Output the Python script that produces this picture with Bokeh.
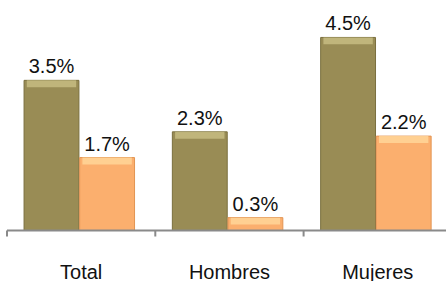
from bokeh.plotting import figure
from bokeh.models import Range1d, ColumnDataSource
from bokeh.core.properties import value
from bokeh.embed import file_html
from bokeh.resources import INLINE
import numpy as np

categories = ["Total", "Hombres", "Mujeres"]
series_a = [3.5, 2.3, 4.5]
series_b = [1.7, 0.3, 2.2]
labels_a = ["3.5%", "2.3%", "4.5%"]
labels_b = ["1.7%", "0.3%", "2.2%"]

W, H = 446, 281
px_per_unit_x = 148.3
x0_px = 6.5
px_per_unit_y = 42.9
base_px = 230.0  # baseline y measured from top of frame

x_start = -x0_px / px_per_unit_x
x_end = (W - x0_px) / px_per_unit_x
y_end = base_px / px_per_unit_y
y_start = -(H - base_px) / px_per_unit_y

p = figure(width=W, height=H, output_backend="svg", toolbar_location=None,
           x_range=Range1d(x_start, x_end), y_range=Range1d(y_start, y_end),
           min_border=0, min_border_left=0, min_border_right=0,
           min_border_top=0, min_border_bottom=0)
p.axis.visible = False
p.grid.visible = False
p.outline_line_color = None
p.background_fill_color = "white"
p.border_fill_color = "white"

idx = np.arange(len(categories))
xa = idx + 0.30
xb = idx + 0.675
bw = 0.37
va = np.array(series_a)
vb = np.array(series_b)

src = ColumnDataSource(dict(xa=xa, xb=xb, va=va, vb=vb,
                            va_h=np.maximum(va - 0.16, 0), vb_h=np.maximum(vb - 0.16, 0),
                            la=labels_a, lb=labels_b,
                            xc=idx + 0.5, cat=categories))

# bars
p.vbar(x="xa", top="va", bottom=0, width=bw, source=src,
       fill_color="#998C55", line_color="#7A6F3E", line_width=1)
p.vbar(x="xb", top="vb", bottom=0, width=bw, source=src,
       fill_color="#FBAF6E", line_color="#E39452", line_width=1)
# bevel highlight on top
p.vbar(x="xa", top="va", bottom="va_h", width=bw * 0.9, source=src,
       fill_color="#C9BF85", fill_alpha=0.8, line_color=None)
p.vbar(x="xb", top="vb", bottom="vb_h", width=bw * 0.9, source=src,
       fill_color="#FFD699", fill_alpha=0.85, line_color=None)

# value labels
p.text(x="xa", y="va", text="la", source=src, y_offset=-14,
       text_align="center", text_baseline="alphabetic",
       text_font=value("Liberation Sans"), text_font_size="20px", text_color="#111111")
p.text(x="xb", y="vb", text="lb", source=src, y_offset=-14,
       text_align="center", text_baseline="alphabetic",
       text_font=value("Liberation Sans"), text_font_size="20px", text_color="#111111")

# axis line and separator ticks
p.segment(x0=[0], y0=[0], x1=[len(categories)], y1=[0], line_color="#8A8A8A", line_width=2)
tick_len = 6 / px_per_unit_y
p.segment(x0=list(range(len(categories) + 1)), y0=[0] * (len(categories) + 1),
          x1=list(range(len(categories) + 1)), y1=[-tick_len] * (len(categories) + 1),
          line_color="#8A8A8A", line_width=2)

# category labels
p.text(x="xc", y=0, text="cat", source=src, y_offset=41,
       text_align="center", text_baseline="alphabetic",
       text_font=value("Liberation Sans"), text_font_size="20px", text_color="#111111")

open("out.html", "w").write(file_html(p, INLINE))
